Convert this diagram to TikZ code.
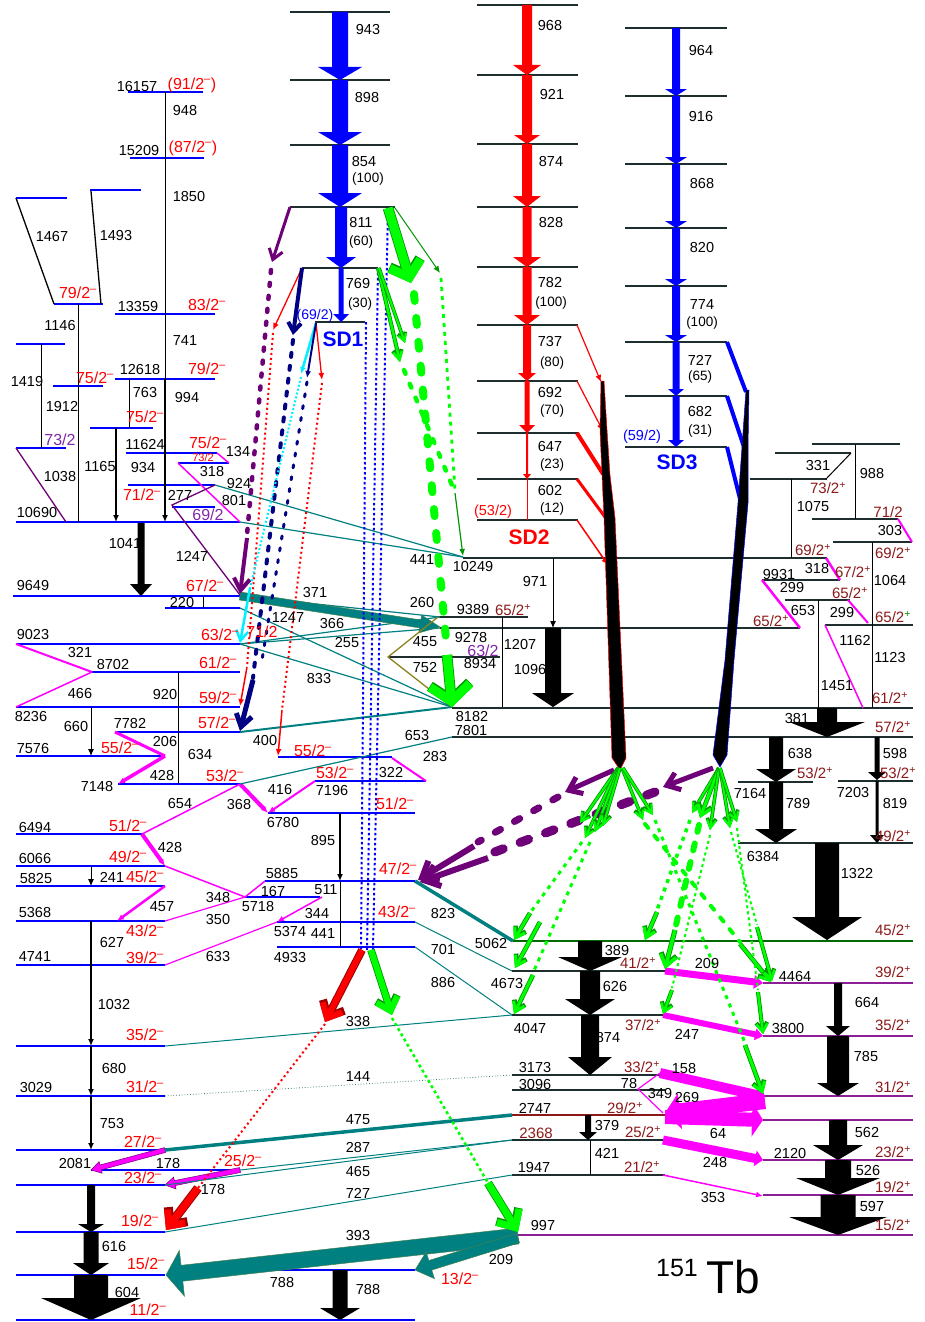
\documentclass[tikz,border=0pt]{standalone}
\usepackage{fontspec}
\setmainfont{Liberation Sans}
\usetikzlibrary{calc,arrows.meta}
\definecolor{tealc}{RGB}{0,128,128}
\definecolor{purp}{RGB}{110,0,120}
\definecolor{navyc}{RGB}{0,0,130}
\definecolor{lime}{RGB}{0,255,0}
\definecolor{dgreen}{RGB}{0,150,0}
\definecolor{maroonc}{RGB}{140,25,25}
\definecolor{olivec}{RGB}{140,130,30}
\definecolor{levc}{RGB}{30,45,45}
\definecolor{plev}{RGB}{140,30,150}
\definecolor{violc}{RGB}{130,40,170}
\definecolor{mgc}{RGB}{255,0,255}
\definecolor{cyc}{RGB}{0,240,255}
\newcommand\smi{\textsuperscript{–}}
\newcommand\spl{\textsuperscript{+}}
\newcount\lblc
\newcommand\Lbl[3][lab]{\global\advance\lblc by 1\relax\node[#1] (L\the\lblc) at (#2) {#3};}
\newcommand\Lv[4][levb]{\draw[#1] (#2,#4) -- (#3,#4);}
\newcommand\farr[6][]{%
  \coordinate (fa) at (#2);
  \coordinate (fb) at (#3);
  \coordinate (fh) at ($(fb)!#6pt!(fa)$);
  \fill[#1] ($(fa)!#4pt!90:(fb)$) -- ($(fh)!#4pt!90:(fb)$) -- ($(fh)!#5pt!90:(fb)$) -- (fb) -- ($(fh)!#5pt!-90:(fb)$) -- ($(fh)!#4pt!-90:(fb)$) -- ($(fa)!#4pt!-90:(fb)$) -- cycle;}
\newcommand\varr[6][]{\draw[#1, line width=#2, -{Straight Barb[length=#5pt,width=#6pt]}] (#3) -- (#4);}
\newcommand\gv[5]{\varr[dgreen]{#1+1.6pt}{#2}{#3}{#4}{#5}\varr[lime]{#1}{#2}{#3}{#4}{#5}}
\tikzset{
 lab/.style={font=\fontsize{14.5}{15}\selectfont, inner sep=0pt, text=black},
 sl/.style={lab, font=\fontsize{16}{17}\selectfont, text=red},
 sr/.style={lab, font=\fontsize{15}{16}\selectfont, text=maroonc},
 sp/.style={lab, font=\fontsize{16}{17}\selectfont, text=violc},
 sm/.style={lab, font=\fontsize{13.5}{14}\selectfont},
 sd/.style={lab, font=\fontsize{21}{22}\selectfont\bfseries},
 levb/.style={draw=blue, line width=1.3pt},
 levk/.style={draw=levc, line width=1.3pt},
 levp/.style={draw=plev, line width=1.1pt},
 karr/.style={fill=black},
 marr/.style={fill=mgc},
 tarr/.style={fill=tealc, draw=olivec!50!tealc, line width=0.5pt},
 thl/.style={draw=black, line width=1pt},
 hd/.style={-{Latex[length=7pt,width=6pt]}},
 mg/.style={draw=mgc},
 tc/.style={draw=tealc},
}
\begin{document}
\begin{tikzpicture}[x=1pt,y=-1pt]
\useasboundingbox (0,0) rectangle (924,1322);
\fill[white] (0,0) rectangle (924,1322);
% ================= SD levels
\Lv[levk]{290}{390}{12}
\Lv[levk]{290}{390}{80}
\Lv[levk]{290}{390}{145}
\Lv[levk]{290}{395}{207}
\Lv[levk]{302}{378}{268}
\Lv[levk]{315}{365}{322}
\foreach \yy in {5,75,144,207,267,325,381,433,479,520} {\Lv[levk]{477}{578}{\yy}}
\foreach \yy in {28,96,164,228,286,342,396,447} {\Lv[levk]{625}{727}{\yy}}
% ================= left levels (blue)
\Lv{128}{203}{92}
\Lv{130}{204}{158}
\Lv{90}{141}{190}
\Lv{16}{67}{198}
\Lv{54}{103}{304}
\Lv{115}{215}{314}
\Lv{16}{65}{344}
\Lv{53}{103}{386}
\Lv{115}{215}{379}
\Lv{90}{153}{428}
\Lv{16}{66}{448}
\Lv{126}{217}{453}
\Lv{178}{229}{463}
\Lv{128}{215}{485}
\Lv{172}{215}{507}
\Lv{16}{240}{522}
\Lv{13}{240}{596}
\Lv{165}{240}{608}
\Lv{16}{240}{644}
\Lv{92}{240}{672}
\Lv{16}{240}{707}
\Lv{115}{240}{732}
\Lv{16}{165}{756}
\Lv{118}{240}{784}
\Lv{278}{392}{757}
\Lv{315}{426}{781}
\Lv{16}{142}{834}
\Lv{268}{415}{813}
\Lv{16}{165}{866}
\Lv{16}{165}{886}
\Lv{265}{415}{881}
\Lv{245}{320}{897}
\Lv{16}{165}{921}
\Lv{277}{415}{922}
\Lv{277}{415}{947}
\Lv{16}{165}{965}
\Lv{16}{165}{1046}
\Lv{16}{165}{1096}
\Lv{16}{165}{1150}
\Lv{91}{240}{1170}
\Lv{16}{165}{1185}
\Lv{16}{165}{1232}
\Lv{16}{165}{1275}
\Lv{250}{415}{1270}
\Lv{16}{415}{1320}
% ================= right levels
\Lv[levk]{812}{900}{444}
\Lv[levk]{775}{851}{453}
\Lv[levk]{750}{827}{479}
\Lv[levk]{812}{898}{519}
\Lv[levk]{833}{912}{542}
\Lv[levk]{463}{827}{558}
\Lv[levk]{762}{840}{580}
\Lv[levk]{785}{850}{600}
\Lv[levk]{438}{528}{617}
\Lv[levk]{440}{800}{628}
\Lv[levk]{825}{913}{625}
\Lv[levk]{388}{500}{657}
\Lv[levk]{452}{913}{708}
\Lv[levk]{452}{913}{737}
\Lv[levk]{738}{813}{782}
\Lv[levk]{838}{913}{781}
\Lv[levk]{738}{913}{843}
\draw[dgreen!70!black, line width=1.2pt] (513,941) -- (913,941);
\Lv[levk]{512}{665}{971}
\Lv[levp]{763}{913}{983}
\Lv[levk]{512}{665}{1015}
\Lv[levp]{763}{913}{1036}
\Lv[levk]{512}{665}{1075}
\Lv[levk]{512}{665}{1090}
\Lv[levp]{763}{913}{1096}
\draw[maroonc, line width=1.2pt] (512,1115) -- (665,1115);
\Lv[levp]{763}{913}{1120}
\Lv[levk]{512}{665}{1140}
\Lv[levp]{763}{913}{1160}
\Lv[levk]{512}{665}{1175}
\Lv[levp]{763}{913}{1195}
\Lv[levp]{518}{913}{1235}
% ================= SD band arrows
\farr[fill=blue]{340,12}{340,80}{8}{22}{13}
\farr[fill=blue]{340,80}{340,145}{8}{22}{13}
\farr[fill=blue]{340,145}{340,207}{8}{22}{14}
\farr[fill=blue]{341,207}{341,268}{6}{15}{11}
\farr[fill=blue]{341,268}{341,322}{2.5}{8}{8}
\farr[fill=red]{527,5}{527,75}{5}{14}{10}
\farr[fill=red]{527,75}{527,144}{5}{13}{9}
\farr[fill=red]{527,144}{527,207}{5}{14}{11}
\farr[fill=red]{527,207}{527,267}{4.5}{14}{10}
\farr[fill=red]{527,267}{527,325}{4.5}{13}{10}
\farr[fill=red]{527,325}{527,381}{4}{9}{8}
\farr[fill=red]{527,381}{527,433}{2.5}{8}{8}
\farr[fill=red]{527,433}{527,479}{1}{4}{5}
\draw[red, line width=1pt] (527,479) -- (527,520);
\farr[fill=blue]{676,28}{676,96}{4}{11}{7}
\farr[fill=blue]{676,96}{676,164}{4}{11}{7}
\farr[fill=blue]{676,164}{676,228}{4}{11}{7}
\farr[fill=blue]{676,228}{676,286}{4}{11}{7}
\farr[fill=blue]{676,286}{676,342}{4}{11}{7}
\farr[fill=blue]{676,342}{676,396}{3.5}{8}{7}
\farr[fill=blue]{676,396}{676,447}{3.5}{8}{7}
% SD2 out of band
\draw[red, line width=1.2pt, hd] (577,325) -- (601,382);
\draw[red, line width=1.2pt, hd] (577,381) -- (603,431);
\draw[red, line width=4pt] (577,433) -- (603,474);
\draw[red, line width=3pt] (577,479) -- (605,517);
\draw[red, line width=1.5pt, hd] (577,520) -- (608,565);
\fill[black, draw=red, line width=0.5pt] (601,381) -- (604,381) -- (607,430) -- (610,475) -- (615,518) -- (626,758) -- (620,770) -- (612,758) -- (604,518) -- (602,475) -- (600,430) -- cycle;
% SD3 out of band
\draw[blue, line width=4pt] (727,342) -- (746,392);
\draw[blue, line width=4pt] (727,396) -- (744,447);
\draw[blue, line width=4pt] (727,447) -- (741,503);
\fill[black, draw=blue, line width=0.5pt] (746,390) -- (749,390) -- (748,447) -- (748,503) -- (734,660) -- (727,755) -- (720,767) -- (713,755) -- (725,660) -- (738,503) -- (742,447) -- cycle;
% ================= left verticals
\draw[thl] (165,92) -- (165,379);
\draw[thl, line width=1.8pt, hd] (165,379) -- (165,522);
\draw[thl] (78,304) -- (78,522);
\draw[thl] (41,344) -- (41,448);
\draw[thl] (129,379) -- (129,428);
\draw[thl, line width=2pt, hd] (116,428) -- (116,522);
\draw[thl, line width=1.3pt] (16,198) -- (54,304);
\draw[thl, line width=1.3pt] (91,191) -- (101,304);
\draw[purp, line width=1.3pt] (16,448) -- (66,522);
\draw[mg, line width=1.5pt] (217,453) -- (229,463);
\draw[mg, line width=1.5pt] (178,463) -- (240,522);
\draw[purp, line width=1.3pt] (215,485) -- (172,505) -- (240,595);
\farr[karr]{141,523}{141,596}{3.5}{11}{12}
\draw[thl] (203,596) -- (203,608);
\draw[mg, line width=2pt] (16,644) -- (92,672);
\draw[mg, line width=1.5pt] (92,672) -- (16,707);
\draw[thl] (178,672) -- (178,784);
\draw[thl, hd] (91,707) -- (91,756);
\draw[mg, line width=3pt] (115,732) -- (165,756);
\draw[mg, line width=3.5pt, hd] (165,756) -- (118,784);
\draw[mg, line width=1.5pt] (240,784) -- (142,834);
\draw[mg, line width=4pt, hd] (240,784) -- (268,813);
\draw[mg, line width=2pt, hd] (315,781) -- (268,813);
\draw[mg, line width=2pt] (392,758) -- (426,781);
\draw[thl, line width=1.8pt, hd] (340,813) -- (340,881);
\draw[thl] (340,881) -- (340,947);
\draw[mg, line width=4pt, hd] (142,834) -- (165,866);
\draw[thl, hd] (91,866) -- (91,886);
\draw[mg, line width=1.5pt] (165,866) -- (245,897) -- (265,881);
\draw[mg, line width=2.5pt, hd] (165,886) -- (117,921);
\draw[mg, line width=1.2pt] (245,897) -- (165,921);
\draw[mg, line width=1.5pt, hd] (322,897) -- (277,922);
\draw[mg, line width=1.2pt] (277,922) -- (165,965);
\draw[thl, line width=2pt] (91,921) -- (91,965);
\draw[thl, line width=2pt, hd] (91,965) -- (91,1046);
\draw[thl, line width=2pt, hd] (91,1046) -- (91,1096);
\draw[thl, line width=2pt, hd] (91,1096) -- (91,1150);
\farr[marr, draw=purp, line width=0.5pt]{165,1150}{91,1170}{2.5}{6}{10}
\farr[marr, draw=purp, line width=0.5pt]{240,1170}{165,1185}{2.5}{6}{10}
\farr[karr]{91,1185}{91,1232}{4}{13}{8}
\farr[karr]{91,1232}{91,1275}{7.5}{18}{12}
\farr[karr]{91,1275}{91,1320}{17}{50}{22}
\farr[karr]{340,1270}{340,1320}{7.5}{20}{12}
% ================= right verticals
\draw[thl, hd] (553,558) -- (553,628);
\draw[thl] (502,617) -- (502,707);
\draw[thl] (855,444) -- (855,519);
\draw[thl] (851,453) -- (826,479);
\draw[thl] (791,479) -- (791,558);
\draw[thl] (872,542) -- (872,708);
\draw[thl] (818,600) -- (818,708);
\draw[mg, line width=2pt] (898,519) -- (912,542);
\draw[mg, line width=2.5pt] (826,558) -- (840,580);
\draw[mg, line width=2.5pt] (762,580) -- (800,628);
\draw[mg, line width=2pt] (848,600) -- (868,623);
\draw[mg, line width=1.5pt] (825,625) -- (863,708);
\farr[karr]{553,628}{553,707}{8}{21}{14}
\farr[karr]{827,708}{827,737}{10}{38}{15}
\farr[karr]{776,737}{776,782}{7}{20}{13}
\farr[karr]{776,782}{776,843}{7}{21}{14}
\farr[karr]{877,737}{877,780}{2.5}{9}{8}
\farr[karr]{877,781}{877,843}{1.5}{7}{8}
\farr[karr]{827,843}{827,940}{12}{35}{23}
\farr[karr]{590,941}{590,971}{12}{32}{14}
\farr[karr]{590,971}{590,1015}{10}{25}{16}
\farr[karr]{590,1015}{590,1075}{9}{22}{18}
\farr[karr]{588,1115}{588,1140}{3}{9}{8}
\draw[thl] (590,1140) -- (590,1175);
\farr[karr]{838,983}{838,1036}{4}{12}{10}
\farr[karr]{838,1036}{838,1096}{11}{21}{13}
\farr[karr]{838,1120}{838,1160}{9}{25}{15}
\farr[karr]{838,1160}{838,1195}{13}{42}{17}
\farr[karr]{838,1195}{838,1235}{17.5}{49}{18}
\farr[marr]{665,971}{763,983}{3.5}{7}{9}
\farr[marr]{663,1015}{763,1036}{3}{6}{8}
\farr[marr]{660,1073}{765,1097}{5}{8}{8}
\farr[marr]{765,1101}{665,1113}{8}{18}{15}
\farr[marr]{665,1117}{763,1120}{7}{17}{11}
\farr[marr]{663,1140}{763,1160}{4.5}{8}{8}
\draw[mg, line width=1.5pt, hd] (663,1175) -- (763,1196);
\draw[mg, line width=1.2pt] (660,1073) -- (638,1089) -- (663,1113);
% ================= teal / olive
\draw[tc, line width=1.2pt] (215,485) -- (463,557);
\draw[tc, line width=1.2pt] (240,522) -- (463,557);
\draw[tc, line width=1.2pt] (240,596) -- (440,617);
\draw[tc, line width=1.2pt] (240,608) -- (452,707);
\draw[tc, line width=1.2pt] (440,617) -- (240,644);
\draw[tc, line width=1.2pt] (440,628) -- (240,644);
\draw[tc, line width=1.2pt] (240,644) -- (452,707);
\draw[tc, line width=2pt] (240,732) -- (452,707);
\draw[tc, line width=1.2pt] (452,737) -- (240,784);
\farr[tarr]{240,596}{440,627}{4}{9}{20}
\draw[tc, line width=3.5pt] (415,881) -- (513,941);
\draw[tc, line width=1pt] (415,922) -- (512,971);
\draw[tc, line width=1pt] (415,947) -- (512,1015);
\draw[tc, line width=1pt] (165,1046) -- (512,1015);
\draw[tealc!50!gray, line width=0.8pt, dotted] (165,1096) -- (512,1075);
\draw[tc, line width=3.5pt] (165,1150) -- (512,1115);
\draw[tc, line width=1pt] (240,1170) -- (512,1140);
\draw[tc, line width=1pt] (165,1185) -- (512,1140);
\draw[tc, line width=1pt] (165,1232) -- (512,1175);
\farr[tarr]{518,1236}{166,1275}{8}{23}{16}
\farr[tarr]{518,1238}{415,1270}{5}{14}{16}
\draw[olivec, line width=1.3pt] (438,617) -- (388,657) -- (452,707);
% ================= SD1 out-of-band
\varr[purp]{3pt}{290,207}{272,262}{10}{14}
\draw[purp, line width=4.5pt, line cap=round, dash pattern=on 3pt off 10pt] (271,270) -- (247,535);
\varr[purp]{4pt}{247,538}{240,594}{12}{16}
\draw[red, line width=1.3pt, hd] (302,268) -- (273,330);
\varr[navyc]{4pt}{302,268}{293,335}{9}{13}
\draw[cyc, line width=2.5pt, hd] (316,323) -- (301,374);
\draw[red, line width=1.3pt, hd] (316,323) -- (322,380);
\draw[navyc, line width=2pt, hd] (316,323) -- (307,378);
\draw[red, line width=2pt, dash pattern=on 2pt off 3pt] (273,333) -- (247,667);
\draw[red, line width=1.5pt, hd] (247,667) -- (240,706);
\draw[navyc, line width=4pt, line cap=round, dash pattern=on 4pt off 9pt] (293,340) -- (253,678);
\varr[navyc]{5pt}{253,680}{240,731}{12}{16}
\draw[navyc, line width=3pt, line cap=round, dash pattern=on 3pt off 9pt] (307,382) -- (262,660);
\draw[cyc, line width=2pt, dash pattern=on 2pt off 2pt] (301,377) -- (250,588);
\varr[cyc]{2.5pt}{250,588}{240,643}{10}{12}
\draw[red, line width=2pt, dash pattern=on 2pt off 3pt] (322,383) -- (282,710);
\draw[red, line width=1.5pt, hd] (282,710) -- (278,756);
\draw[blue, line width=2pt, dash pattern=on 2.5pt off 2.5pt] (388,208) -- (373,950);
\draw[blue, line width=2pt, dash pattern=on 2.5pt off 2.5pt] (378,268) -- (367,950);
\draw[blue, line width=2pt, dash pattern=on 2.5pt off 2.5pt] (366,322) -- (361,950);
\gv{9pt}{388,208}{411,283}{14}{32}
\draw[dgreen, line width=1pt, hd] (395,208) -- (440,273);
\gv{2.5pt}{378,268}{400,362}{8}{9}
\gv{2pt}{379,268}{405,343}{7}{8}
\draw[lime, line width=8pt, line cap=round, dash pattern=on 7pt off 17pt] (414,294) -- (447,650);
\gv{9pt}{447,655}{452,707}{16}{40}
\draw[lime, line width=4.5pt, line cap=round, dash pattern=on 4pt off 11pt] (404,370) -- (454,490);
\draw[lime, line width=2.8pt, dash pattern=on 4pt off 5pt] (441,278) -- (455,490);
\draw[dgreen, line width=1.2pt, hd] (455,493) -- (463,556);
% bottom of SD1
\varr[red!60!black]{8pt}{362,950}{325,1022}{13}{24}
\varr[red]{6pt}{362,950}{325,1022}{12}{22}
\draw[red, line width=2pt, dash pattern=on 2pt off 3pt] (325,1024) -- (198,1188);
\varr[red!60!black]{9pt}{198,1188}{166,1230}{13}{24}
\varr[red]{7pt}{198,1188}{166,1230}{12}{22}
\gv{6pt}{371,950}{392,1015}{12}{22}
\draw[lime, line width=2.5pt, dash pattern=on 3pt off 3pt] (392,1018) -- (488,1183);
\gv{7pt}{488,1183}{518,1232}{14}{26}
% ================= SD2 / SD3 fans
\varr[purp]{5pt}{614,770}{565,792}{12}{18}
\draw[purp, line width=7pt, line cap=round, dash pattern=on 6pt off 16pt] (558,797) -- (478,842);
\varr[purp]{6pt}{474,846}{418,880}{14}{22}
\varr[purp]{5pt}{713,768}{663,787}{12}{18}
\draw[purp, line width=9pt, line cap=round, dash pattern=on 9pt off 18pt] (655,792) -- (492,853);
\varr[purp]{6pt}{488,858}{420,882}{14}{22}
\gv{2pt}{618,768}{580,823}{8}{9}
\gv{2pt}{618,768}{585,838}{8}{9}
\gv{2pt}{619,768}{595,832}{8}{9}
\gv{2pt}{620,768}{603,826}{8}{9}
\gv{2pt}{622,768}{643,820}{8}{9}
\gv{2pt}{623,768}{653,815}{8}{9}
\draw[lime, line width=3pt, dash pattern=on 4pt off 5pt] (582,842) -- (530,913);
\gv{3pt}{530,913}{514,940}{9}{12}
\gv{3pt}{540,922}{515,968}{9}{12}
\draw[lime, line width=3pt, dash pattern=on 4pt off 5pt] (590,842) -- (533,973);
\gv{3pt}{533,975}{514,1014}{9}{12}
\draw[lime, line width=4pt, line cap=round, dash pattern=on 5pt off 10pt] (645,824) -- (740,942);
\gv{3pt}{740,944}{771,982}{9}{12}
\draw[lime, line width=3pt, dash pattern=on 4pt off 5pt] (655,820) -- (745,1043);
\gv{3pt}{745,1045}{763,1094}{9}{12}
\gv{2pt}{719,768}{692,813}{8}{9}
\gv{3pt}{719,768}{700,818}{10}{14}
\gv{2pt}{719,768}{710,830}{8}{9}
\gv{2pt}{720,768}{730,828}{8}{9}
\gv{2pt}{720,768}{737,822}{8}{9}
\draw[lime, line width=3.5pt, dash pattern=on 4pt off 5pt] (690,820) -- (657,910);
\gv{3pt}{657,912}{645,940}{9}{12}
\draw[lime, line width=6pt, line cap=round, dash pattern=on 7pt off 12pt] (699,825) -- (676,925);
\gv{3.5pt}{675,930}{665,969}{11}{16}
\draw[lime, line width=2pt, dash pattern=on 3pt off 3pt] (710,835) -- (672,988);
\gv{2.5pt}{672,990}{663,1014}{8}{11}
\draw[lime, line width=2pt, dash pattern=on 3pt off 3pt] (731,832) -- (757,925);
\gv{2.5pt}{757,927}{772,981}{8}{11}
\draw[lime, line width=2pt, dash pattern=on 3pt off 3pt] (737,828) -- (758,990);
\gv{2.5pt}{758,992}{763,1034}{8}{11}
% ================= labels left
\Lbl{137,87}{16157} \Lbl[sl]{192,85}{(91/2\smi)}
\Lbl{185,111}{948}
\Lbl{139,151}{15209} \Lbl[sl]{193,148}{(87/2\smi)}
\Lbl{189,197}{1850}
\Lbl{52,237}{1467} \Lbl{116,236}{1493}
\Lbl[sl]{78,293}{79/2\smi}
\Lbl{138,307}{13359} \Lbl[sl]{207,305}{83/2\smi}
\Lbl{60,326}{1146} \Lbl{185,341}{741}
\Lbl{27,382}{1419} \Lbl[sl]{95,378}{75/2\smi}
\Lbl{140,370}{12618} \Lbl[sl]{207,369}{79/2\smi}
\Lbl{62,407}{1912} \Lbl{145,393}{763} \Lbl{187,398}{994}
\Lbl[sl]{145,417}{75/2\smi}
\Lbl[sp]{60,440}{73/2}
\Lbl{145,445}{11624} \Lbl[sl]{208,443}{75/2\smi} \Lbl{238,452}{134}
\Lbl[sl, font=\fontsize{11}{11}\selectfont]{203,458}{73/2}
\Lbl{212,472}{318} \Lbl{100,467}{1165} \Lbl{60,477}{1038} \Lbl{143,468}{934}
\Lbl{239,484}{924} \Lbl[sl]{142,495}{71/2\smi} \Lbl{180,495}{277} \Lbl{234,501}{801}
\Lbl[sp]{208,515}{69/2} \Lbl{37,513}{10690}
\Lbl{125,544}{1041} \Lbl{192,556}{1247}
\Lbl{33,586}{9649} \Lbl[sl]{205,586}{67/2\smi}
\Lbl{182,603}{220}
\Lbl{288,617}{1247}
\Lbl{33,635}{9023} \Lbl[sl]{220,635}{63/2\smi} \Lbl[sl]{262,632}{71/2}
\Lbl{80,653}{321}
\Lbl{113,665}{8702} \Lbl[sl]{218,663}{61/2\smi}
\Lbl{80,693}{466} \Lbl{165,695}{920} \Lbl[sl]{218,698}{59/2\smi}
\Lbl{31,717}{8236} \Lbl{76,726}{660} \Lbl{130,723}{7782} \Lbl[sl]{217,723}{57/2\smi}
\Lbl{165,741}{206} \Lbl{33,748}{7576} \Lbl[sl]{120,748}{55/2\smi} \Lbl{200,754}{634} \Lbl{265,740}{400}
\Lbl{162,775}{428} \Lbl[sl]{225,776}{53/2\smi} \Lbl{97,786}{7148}
\Lbl{180,803}{654} \Lbl{239,804}{368} \Lbl{280,789}{416} \Lbl{283,822}{6780}
\Lbl{35,827}{6494} \Lbl[sl]{128,826}{51/2\smi} \Lbl{170,847}{428}
\Lbl{35,858}{6066} \Lbl[sl]{128,857}{49/2\smi}
\Lbl{36,878}{5825} \Lbl{112,877}{241} \Lbl[sl]{145,877}{45/2\smi}
\Lbl{282,873}{5885} \Lbl{273,891}{167} \Lbl{218,897}{348} \Lbl{258,906}{5718}
\Lbl{162,907}{457} \Lbl{35,912}{5368} \Lbl{218,919}{350}
\Lbl[sl]{145,931}{43/2\smi} \Lbl{290,931}{5374}
\Lbl{112,942}{627} \Lbl{35,956}{4741} \Lbl[sl]{145,958}{39/2\smi} \Lbl{218,956}{633} \Lbl{290,957}{4933}
\Lbl{114,1004}{1032} \Lbl[sl]{145,1035}{35/2\smi} \Lbl{114,1068}{680}
\Lbl{36,1087}{3029} \Lbl[sl]{145,1087}{31/2\smi} \Lbl{112,1123}{753}
\Lbl[sl]{143,1142}{27/2\smi} \Lbl{75,1163}{2081} \Lbl{168,1163}{178} \Lbl[sl]{243,1161}{25/2\smi}
\Lbl[sl]{143,1178}{23/2\smi} \Lbl{213,1189}{178}
\Lbl[sl]{140,1221}{19/2\smi} \Lbl{114,1246}{616} \Lbl[sl]{146,1264}{15/2\smi}
\Lbl{282,1282}{788} \Lbl{127,1292}{604} \Lbl[sl]{148,1310}{11/2\smi}
% ================= labels SD bands
\Lbl{368,30}{943} \Lbl{367,98}{898} \Lbl{364,162}{854} \Lbl[sm]{368,179}{(100)}
\Lbl{361,223}{811} \Lbl[sm]{361,242}{(60)} \Lbl{358,284}{769} \Lbl[sm]{360,304}{(30)}
\Lbl[lab, text=blue, font=\fontsize{14}{14}\selectfont]{315,316}{(69/2)}
\Lbl[sd, text=blue]{343,339}{SD1}
\Lbl{550,26}{968} \Lbl{552,95}{921} \Lbl{551,162}{874} \Lbl{551,223}{828}
\Lbl{550,283}{782} \Lbl[sm]{551,303}{(100)} \Lbl{550,342}{737} \Lbl[sm]{552,363}{(80)}
\Lbl{550,393}{692} \Lbl[sm]{552,411}{(70)} \Lbl{550,447}{647} \Lbl[sm]{552,465}{(23)}
\Lbl{550,491}{602} \Lbl[sm]{552,509}{(12)}
\Lbl[lab, text=red]{493,512}{(53/2)} \Lbl[sd, text=red]{529,537}{SD2}
\Lbl{701,51}{964} \Lbl{701,117}{916} \Lbl{702,184}{868} \Lbl{702,248}{820}
\Lbl{702,305}{774} \Lbl[sm]{702,323}{(100)} \Lbl{700,360}{727} \Lbl[sm]{700,377}{(65)}
\Lbl{700,412}{682} \Lbl[sm]{700,431}{(31)}
\Lbl[lab, text=blue]{642,437}{(59/2)} \Lbl[sd, text=blue]{677,462}{SD3}
% ================= labels middle
\Lbl{422,560}{441} \Lbl{473,567}{10249} \Lbl{535,582}{971}
\Lbl{315,593}{371} \Lbl{422,603}{260} \Lbl{473,610}{9389} \Lbl[sr]{513,610}{65/2\spl}
\Lbl{332,624}{366} \Lbl{425,642}{455} \Lbl{471,638}{9278} \Lbl{347,643}{255} \Lbl[sp]{483,651}{63/2} \Lbl{520,645}{1207}
\Lbl{319,679}{833} \Lbl{425,667}{752} \Lbl{480,664}{8934} \Lbl{530,670}{1096}
\Lbl{472,717}{8182} \Lbl{471,730}{7801} \Lbl{417,735}{653} \Lbl{435,756}{283}
\Lbl[sl]{313,751}{55/2\smi} \Lbl[sl]{335,773}{53/2\smi} \Lbl{391,772}{322} \Lbl{332,790}{7196} \Lbl[sl]{395,804}{51/2\smi}
\Lbl{323,840}{895} \Lbl[sl]{398,869}{47/2\smi} \Lbl{326,890}{511} \Lbl{317,913}{344} \Lbl[sl]{397,912}{43/2\smi} \Lbl{443,913}{823} \Lbl{323,933}{441}
\Lbl{491,943}{5062} \Lbl{443,949}{701} \Lbl{507,983}{4673} \Lbl{443,982}{886}
% ================= labels right
\Lbl{818,466}{331} \Lbl{872,474}{988} \Lbl[sr]{828,488}{73/2\spl} \Lbl{813,507}{1075} \Lbl[sr]{888,512}{71/2} \Lbl{890,531}{303}
\Lbl[sr]{813,550}{69/2\spl} \Lbl[sr]{893,553}{69/2\spl} \Lbl{817,569}{318} \Lbl[sr]{853,572}{67/2\spl} \Lbl{779,575}{9931} \Lbl{890,581}{1064}
\Lbl{792,588}{299} \Lbl[sr]{850,593}{65/2\spl} \Lbl{803,611}{653} \Lbl{842,613}{299} \Lbl[sr]{771,621}{65/2\spl}
\Lbl[sr]{893,617}{65/2\textsuperscript{\color{dgreen}+}} \Lbl{855,641}{1162} \Lbl{890,658}{1123}
\Lbl{837,686}{1451} \Lbl[sr]{890,698}{61/2\spl} \Lbl{797,718}{381} \Lbl[sr]{893,727}{57/2\spl}
\Lbl{800,753}{638} \Lbl{895,753}{598} \Lbl[sr]{815,773}{53/2\spl} \Lbl[sr]{898,773}{53/2\spl}
\Lbl{750,793}{7164} \Lbl{853,792}{7203} \Lbl{798,803}{789} \Lbl{895,803}{819} \Lbl[sr]{893,836}{49/2\spl}
\Lbl{763,856}{6384} \Lbl{857,873}{1322} \Lbl[sr]{893,930}{45/2\spl}
\Lbl{617,950}{389} \Lbl[sr]{638,963}{41/2\spl} \Lbl{707,963}{209} \Lbl{795,976}{4464} \Lbl[sr]{893,972}{39/2\spl}
\Lbl{615,986}{626} \Lbl{867,1002}{664} \Lbl[sr]{643,1025}{37/2\spl} \Lbl{687,1034}{247} \Lbl{788,1028}{3800} \Lbl[sr]{893,1025}{35/2\spl}
\Lbl{358,1021}{338} \Lbl{530,1028}{4047} \Lbl{608,1037}{874} \Lbl{866,1056}{785}
\Lbl{535,1067}{3173} \Lbl[sr]{642,1067}{33/2\spl} \Lbl{684,1068}{158} \Lbl{358,1076}{144} \Lbl{535,1084}{3096} \Lbl{629,1083}{78} \Lbl[sr]{893,1087}{31/2\spl}
\Lbl{660,1093}{349} \Lbl{687,1097}{269}
\Lbl{535,1108}{2747} \Lbl[sr]{625,1108}{29/2\spl} \Lbl{358,1120}{475} \Lbl{607,1125}{379}
\Lbl[sr]{536,1133}{2368} \Lbl[sr]{643,1132}{25/2\spl} \Lbl{718,1133}{64} \Lbl{867,1132}{562}
\Lbl{358,1147}{287} \Lbl{607,1153}{421} \Lbl{790,1153}{2120} \Lbl[sr]{893,1152}{23/2\spl} \Lbl{715,1162}{248}
\Lbl{534,1167}{1947} \Lbl[sr]{642,1167}{21/2\spl} \Lbl{358,1171}{465} \Lbl{868,1170}{526} \Lbl[sr]{893,1187}{19/2\spl}
\Lbl{358,1193}{727} \Lbl{713,1197}{353} \Lbl{872,1206}{597}
\Lbl{543,1225}{997} \Lbl[sr]{893,1225}{15/2\spl} \Lbl{358,1235}{393}
\Lbl{501,1259}{209} \Lbl[sl]{460,1279}{13/2\smi} \Lbl{368,1289}{788}
\Lbl[lab, font=\fontsize{25}{25}\selectfont]{677,1268}{151}
\Lbl[lab, font=\fontsize{46}{46}\selectfont]{733,1277}{Tb}
\end{tikzpicture}
\end{document}
